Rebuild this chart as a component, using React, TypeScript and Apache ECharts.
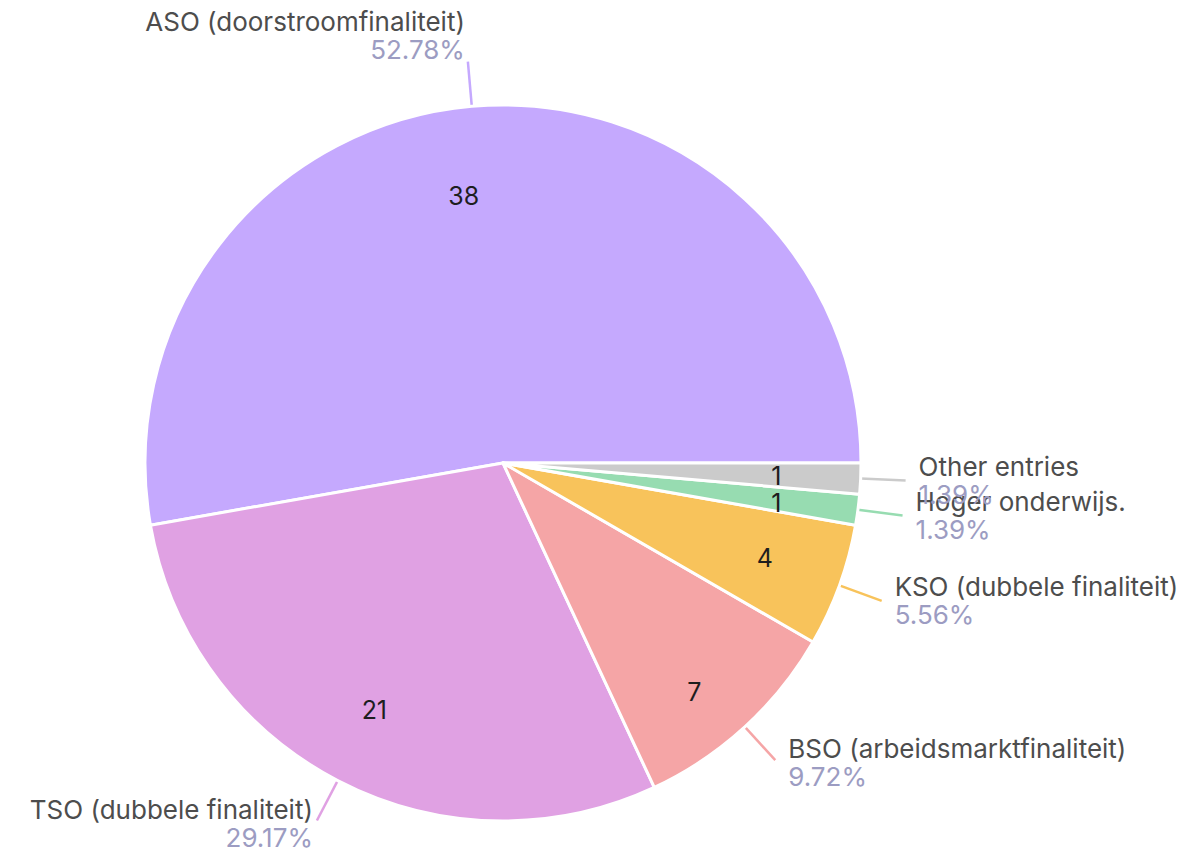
import React, { useEffect, useRef } from "react";
import * as echarts from "echarts";

const categories = [
  "ASO (doorstroomfinaliteit)",
  "TSO (dubbele finaliteit)",
  "BSO (arbeidsmarktfinaliteit)",
  "KSO (dubbele finaliteit)",
  "Hoger onderwijs.",
  "Other entries",
];
const values = [38, 21, 7, 4, 1, 1];
const colors = ["#c5a9fe", "#e0a1e3", "#f5a5a6", "#f8c35b", "#97dcb1", "#cbcbcb"];

const FONT = "Inter, 'Noto Sans', sans-serif";

export default function App() {
  const ref = useRef<HTMLDivElement>(null);
  useEffect(() => {
    if (!ref.current) return;
    const chart = echarts.init(ref.current, undefined, { renderer: "svg" });
    const R = 358;
    const center = [503, 463];
    const total = values.reduce((a, b) => a + b, 0);
    const outerData = categories.map((name, i) => {
      const item: any = { name, value: values[i], itemStyle: { color: colors[i] } };
      if (i === 0) item.label = { distanceToLabelLine: 3, padding: [0, 0, 52, 0] };
      if (i === 1) item.label = { distanceToLabelLine: 4, padding: [6, 0, 0, 0] };
      if (i === 2) item.label = { padding: [4, 0, 0, 0] };
      return item;
    });
    const innerOffsets: Record<number, number[]> = {
      0: [-15, 11],
      2: [3, 24],
      4: [-3, 4],
      5: [-5, 1],
    };
    const innerData = categories.map((name, i) => {
      const item: any = { name, value: values[i] };
      if (innerOffsets[i]) item.label = { offset: innerOffsets[i] };
      return item;
    });
    chart.setOption({
      animation: false,
      backgroundColor: "#ffffff",
      series: [
        {
          type: "pie",
          center,
          radius: [0, R],
          startAngle: 0,
          clockwise: false,
          avoidLabelOverlap: false,
          labelLayout: { hideOverlap: false },
          itemStyle: { borderColor: "#ffffff", borderWidth: 3 },
          label: {
            show: true,
            position: "outside",
            distanceToLabelLine: 13,
            fontFamily: FONT,
            formatter: (p: any) =>
              "{n|" + p.name + "}\n{p|" + ((p.value / total) * 100).toFixed(2) + "%}",
            rich: {
              n: { fontFamily: FONT, fontSize: 26, color: "#4d4d4d", lineHeight: 28 },
              p: { fontFamily: FONT, fontSize: 26, color: "#9c9cc2", lineHeight: 28 },
            },
          },
          labelLine: { show: true, length: 45, length2: 0, lineStyle: { width: 2.5 } },
          emphasis: { disabled: true },
          data: outerData,
        },
        {
          type: "pie",
          center,
          radius: [R * 0.54, R],
          startAngle: 0,
          clockwise: false,
          silent: true,
          avoidLabelOverlap: false,
          labelLayout: { hideOverlap: false },
          itemStyle: { color: "transparent", borderWidth: 0 },
          label: {
            show: true,
            position: "inside",
            formatter: "{c}",
            fontFamily: FONT,
            fontSize: 25,
            lineHeight: 26,
            color: "#1e1e1e",
          },
          labelLine: { show: false },
          data: innerData,
        },
      ],
    });
    return () => chart.dispose();
  }, []);
  return (
    <div
      ref={ref}
      style={{ position: "absolute", left: 0, top: 0, width: 1195, height: 857 }}
    />
  );
}
